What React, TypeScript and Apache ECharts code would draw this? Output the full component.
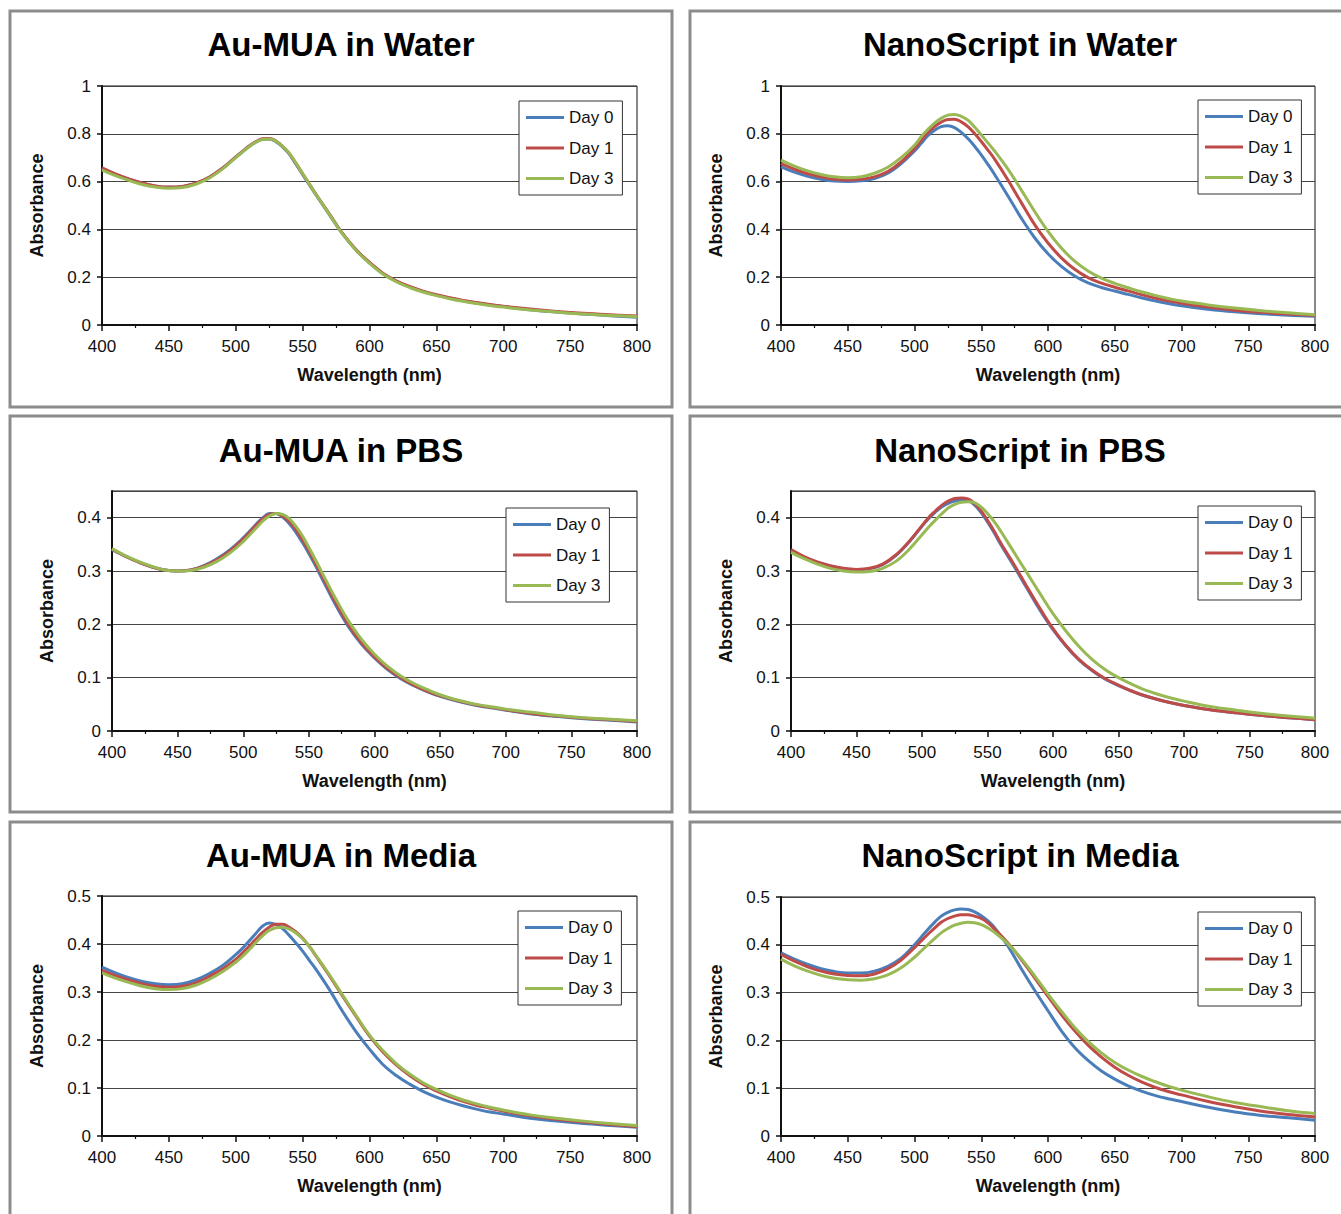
import React, { useEffect, useRef } from "react";
import * as echarts from "echarts";

// ---------------- data ----------------
const WAVELENGTHS = [
  400, 410, 420, 430, 440, 450, 460, 470, 480, 490,
  500, 505, 510, 515, 520, 525, 530, 535, 540, 545, 550, 555, 560,
  570, 580, 590, 600, 610, 620, 630, 640, 650, 660, 670, 680, 690, 700,
  720, 740, 760, 780, 800,
];
const DAYS = ["Day 0", "Day 1", "Day 3"];
const TITLES = [
  "Au-MUA in Water",
  "NanoScript in Water",
  "Au-MUA in PBS",
  "NanoScript in PBS",
  "Au-MUA in Media",
  "NanoScript in Media",
];
const Y_MAX = [1, 1, 0.45, 0.45, 0.5, 0.5];
const Y_INTERVAL = [0.2, 0.2, 0.1, 0.1, 0.1, 0.1];
const X_TICKS = [400, 450, 500, 550, 600, 650, 700, 750, 800];

// Au-MUA in Water
const auWaterDay0 = [0.655,0.630,0.610,0.593,0.581,0.576,0.579,0.592,0.617,0.655, 0.702,0.725,0.747,0.765,0.777,0.778,0.767,0.745,0.715,0.673,0.630,0.587,0.544, 0.462,0.380,0.313,0.260,0.215,0.183,0.159,0.140,0.125,0.112,0.101,0.092,0.084,0.077, 0.064,0.054,0.046,0.039,0.032];
const auWaterDay1 = [0.657,0.632,0.611,0.594,0.582,0.577,0.580,0.593,0.618,0.656, 0.703,0.726,0.749,0.767,0.779,0.780,0.770,0.748,0.718,0.676,0.633,0.590,0.547, 0.465,0.382,0.315,0.262,0.217,0.185,0.161,0.142,0.127,0.114,0.103,0.094,0.086,0.079, 0.067,0.057,0.049,0.043,0.038];
const auWaterDay3 = [0.648,0.625,0.605,0.588,0.577,0.572,0.575,0.589,0.614,0.652, 0.700,0.724,0.746,0.765,0.776,0.778,0.769,0.748,0.718,0.677,0.634,0.590,0.546, 0.463,0.380,0.312,0.258,0.213,0.181,0.157,0.138,0.123,0.110,0.099,0.090,0.082,0.075, 0.063,0.054,0.046,0.040,0.035];

// NanoScript in Water
const nanoWaterDay0 = [0.662,0.640,0.622,0.610,0.602,0.600,0.603,0.613,0.635,0.675, 0.728,0.760,0.792,0.815,0.830,0.834,0.826,0.806,0.780,0.748,0.712,0.672,0.630, 0.540,0.447,0.365,0.298,0.245,0.205,0.176,0.157,0.142,0.128,0.114,0.101,0.090,0.081, 0.066,0.055,0.047,0.041,0.037];
const nanoWaterDay1 = [0.675,0.652,0.633,0.620,0.610,0.607,0.610,0.620,0.642,0.682, 0.738,0.772,0.805,0.830,0.849,0.860,0.861,0.850,0.830,0.801,0.768,0.732,0.694, 0.607,0.512,0.420,0.343,0.281,0.233,0.198,0.175,0.158,0.143,0.127,0.113,0.101,0.091, 0.075,0.062,0.053,0.046,0.040];
const nanoWaterDay3 = [0.690,0.665,0.645,0.630,0.620,0.616,0.620,0.635,0.660,0.700, 0.752,0.788,0.818,0.845,0.865,0.878,0.881,0.873,0.857,0.828,0.795,0.762,0.728, 0.652,0.565,0.475,0.392,0.322,0.267,0.226,0.196,0.174,0.156,0.139,0.124,0.111,0.100, 0.084,0.071,0.060,0.051,0.043];

// Au-MUA in PBS
const auPbsDay0 = [0.340,0.328,0.317,0.308,0.302,0.300,0.302,0.310,0.323,0.340, 0.362,0.375,0.388,0.400,0.408,0.408,0.401,0.389,0.373,0.354,0.333,0.310,0.286, 0.238,0.196,0.163,0.137,0.115,0.098,0.085,0.074,0.065,0.058,0.052,0.047,0.043,0.039, 0.032,0.027,0.023,0.020,0.017];
const auPbsDay1 = [0.341,0.328,0.317,0.308,0.302,0.300,0.302,0.309,0.321,0.338, 0.360,0.373,0.386,0.398,0.406,0.408,0.403,0.393,0.378,0.359,0.338,0.315,0.291, 0.243,0.200,0.166,0.139,0.117,0.100,0.086,0.075,0.066,0.059,0.053,0.048,0.044,0.040, 0.033,0.028,0.024,0.021,0.018];
const auPbsDay3 = [0.342,0.329,0.318,0.309,0.302,0.300,0.301,0.307,0.318,0.334, 0.355,0.368,0.381,0.394,0.403,0.408,0.406,0.398,0.384,0.366,0.344,0.321,0.297, 0.250,0.207,0.172,0.144,0.121,0.103,0.089,0.078,0.068,0.060,0.054,0.049,0.045,0.041, 0.035,0.029,0.025,0.022,0.019];

// NanoScript in PBS
const nanoPbsDay0 = [0.338,0.326,0.316,0.309,0.304,0.302,0.304,0.312,0.329,0.354, 0.384,0.398,0.410,0.420,0.427,0.431,0.433,0.432,0.424,0.410,0.392,0.372,0.350, 0.310,0.268,0.227,0.190,0.159,0.133,0.113,0.097,0.085,0.075,0.066,0.059,0.053,0.048, 0.040,0.034,0.029,0.025,0.021];
const nanoPbsDay1 = [0.340,0.327,0.317,0.310,0.305,0.303,0.305,0.313,0.330,0.355, 0.385,0.400,0.412,0.423,0.431,0.436,0.437,0.435,0.427,0.413,0.395,0.375,0.353, 0.313,0.271,0.230,0.192,0.160,0.134,0.114,0.098,0.086,0.075,0.066,0.059,0.053,0.048, 0.040,0.034,0.029,0.025,0.021];
const nanoPbsDay3 = [0.335,0.323,0.313,0.305,0.300,0.298,0.299,0.305,0.318,0.340, 0.368,0.382,0.395,0.407,0.418,0.425,0.429,0.430,0.428,0.420,0.408,0.393,0.375, 0.336,0.297,0.258,0.220,0.187,0.158,0.134,0.115,0.100,0.088,0.077,0.069,0.062,0.056, 0.046,0.039,0.033,0.028,0.024];

// Au-MUA in Media
const auMediaDay0 = [0.352,0.340,0.330,0.322,0.317,0.315,0.317,0.325,0.338,0.355, 0.378,0.391,0.406,0.422,0.437,0.444,0.441,0.432,0.418,0.402,0.385,0.366,0.347, 0.305,0.259,0.217,0.181,0.149,0.126,0.108,0.093,0.081,0.071,0.063,0.056,0.050,0.046, 0.037,0.031,0.026,0.022,0.018];
const auMediaDay1 = [0.345,0.334,0.325,0.317,0.312,0.310,0.312,0.319,0.332,0.348, 0.368,0.381,0.395,0.410,0.424,0.435,0.441,0.441,0.435,0.425,0.412,0.395,0.375, 0.334,0.291,0.249,0.208,0.175,0.148,0.126,0.108,0.094,0.082,0.072,0.064,0.058,0.052, 0.042,0.035,0.029,0.024,0.020];
const auMediaDay3 = [0.340,0.329,0.320,0.312,0.307,0.305,0.307,0.314,0.326,0.342, 0.362,0.374,0.388,0.403,0.417,0.428,0.434,0.435,0.431,0.423,0.411,0.395,0.376, 0.336,0.293,0.251,0.210,0.178,0.151,0.129,0.111,0.097,0.085,0.075,0.067,0.060,0.054, 0.044,0.037,0.031,0.026,0.022];

// NanoScript in Media
const nanoMediaDay0 = [0.383,0.370,0.359,0.350,0.344,0.341,0.341,0.345,0.355,0.372, 0.400,0.416,0.432,0.447,0.460,0.468,0.473,0.475,0.474,0.469,0.461,0.450,0.436, 0.397,0.350,0.305,0.262,0.220,0.185,0.158,0.136,0.119,0.105,0.094,0.085,0.078,0.072, 0.060,0.050,0.043,0.038,0.033];
const nanoMediaDay1 = [0.380,0.366,0.354,0.345,0.339,0.336,0.335,0.339,0.350,0.368, 0.394,0.408,0.422,0.435,0.447,0.455,0.460,0.463,0.463,0.460,0.455,0.446,0.433, 0.404,0.369,0.331,0.292,0.254,0.220,0.190,0.165,0.144,0.127,0.113,0.102,0.093,0.086, 0.072,0.061,0.052,0.045,0.040];
const nanoMediaDay3 = [0.370,0.356,0.345,0.336,0.330,0.327,0.326,0.329,0.337,0.352, 0.374,0.387,0.400,0.413,0.425,0.434,0.441,0.445,0.447,0.446,0.442,0.435,0.426, 0.402,0.371,0.335,0.297,0.261,0.227,0.198,0.174,0.154,0.138,0.125,0.114,0.104,0.096, 0.082,0.070,0.061,0.053,0.047];

const PANEL_SERIES = [
  [auWaterDay0, auWaterDay1, auWaterDay3],
  [nanoWaterDay0, nanoWaterDay1, nanoWaterDay3],
  [auPbsDay0, auPbsDay1, auPbsDay3],
  [nanoPbsDay0, nanoPbsDay1, nanoPbsDay3],
  [auMediaDay0, auMediaDay1, auMediaDay3],
  [nanoMediaDay0, nanoMediaDay1, nanoMediaDay3],
];

// ---------------- styling / layout ----------------
const COLORS = ["#4a7ebb", "#be4b48", "#98b954"];
const FONT = '"Liberation Sans", Arial, Helvetica, sans-serif';

const LAYOUT = [
  { box: [10, 11, 662, 396], grid: [102, 86, 637, 325], title: [341, 44], legend: [519, 101] },
  { box: [690, 11, 662, 396], grid: [781, 86, 1315, 325], title: [1020, 44], legend: [1198, 100] },
  { box: [10, 416, 662, 396], grid: [112, 491, 637, 731], title: [341, 450], legend: [506, 508] },
  { box: [690, 416, 662, 396], grid: [791, 491, 1315, 731], title: [1020, 450], legend: [1198, 506] },
  { box: [10, 822, 662, 400], grid: [102, 896, 637, 1136], title: [341, 855], legend: [518, 911] },
  { box: [690, 822, 662, 400], grid: [781, 897, 1315, 1136], title: [1020, 855], legend: [1198, 912] },
];

function buildOption() {
  const grids: any[] = [];
  const xAxes: any[] = [];
  const yAxes: any[] = [];
  const legends: any[] = [];
  const series: any[] = [];
  const graphics: any[] = [];

  LAYOUT.forEach((L, p) => {
    const [gl, gt, gr, gb] = L.grid;
    grids.push({
      left: gl,
      top: gt,
      width: gr - gl,
      height: gb - gt,
      show: true,
      borderColor: "#111",
      borderWidth: 1,
      backgroundColor: "transparent",
    });
    xAxes.push({
      type: "value",
      gridIndex: p,
      min: X_TICKS[0],
      max: X_TICKS[X_TICKS.length - 1],
      interval: 50,
      name: "Wavelength (nm)",
      nameLocation: "middle",
      nameGap: 50,
      nameTextStyle: {
        fontFamily: FONT,
        fontWeight: "bold",
        fontSize: 18,
        color: "#111",
        verticalAlign: "middle",
      },
      axisLine: { show: true, onZero: false, lineStyle: { color: "#111", width: 2 } },
      axisTick: { show: true, length: 6, lineStyle: { color: "#111", width: 1.5 } },
      minorTick: { show: true, splitNumber: 2, length: 3, lineStyle: { color: "#111", width: 1.2 } },
      axisLabel: { fontFamily: FONT, fontSize: 17, color: "#111", margin: 13 },
      splitLine: { show: false },
    });
    yAxes.push({
      type: "value",
      gridIndex: p,
      min: 0,
      max: Y_MAX[p],
      interval: Y_INTERVAL[p],
      name: "Absorbance",
      nameLocation: "middle",
      nameRotate: 90,
      nameGap: 65,
      nameTextStyle: {
        fontFamily: FONT,
        fontWeight: "bold",
        fontSize: 18,
        color: "#111",
        verticalAlign: "middle",
      },
      axisLine: { show: true, onZero: false, lineStyle: { color: "#111", width: 2 } },
      axisTick: { show: true, length: 5, lineStyle: { color: "#111", width: 1.5 } },
      axisLabel: {
        fontFamily: FONT,
        fontSize: 17,
        color: "#111",
        margin: 11,
        showMaxLabel: Y_MAX[p] === 0.45 ? false : true,
      },
      splitLine: { show: true, lineStyle: { color: "#444", width: 1 } },
    });
    legends.push({
      left: L.legend[0],
      top: L.legend[1],
      orient: "vertical",
      icon: "rect",
      itemWidth: 38,
      itemHeight: 3,
      itemGap: 13.5,
      padding: [8, 9, 8, 7],
      backgroundColor: "#fff",
      borderColor: "#333",
      borderWidth: 1,
      selectedMode: false,
      textStyle: { fontFamily: FONT, fontSize: 17, color: "#111" },
      data: DAYS,
    });
    PANEL_SERIES[p].forEach((values, d) => {
      series.push({
        type: "line",
        name: DAYS[d],
        xAxisIndex: p,
        yAxisIndex: p,
        data: WAVELENGTHS.map((w, i) => [w, values[i]]),
        symbol: "none",
        smooth: 0.4,
        silent: true,
        z: 2 + d,
        lineStyle: { width: 3, color: COLORS[d] },
        itemStyle: { color: COLORS[d] },
      });
    });
    const [bx, by, bw, bh] = L.box;
    graphics.push({
      type: "rect",
      silent: true,
      shape: { x: bx, y: by, width: bw, height: bh },
      style: { fill: "none", stroke: "#8c8c8c", lineWidth: 3 },
    });
    graphics.push({
      type: "text",
      silent: true,
      x: L.title[0],
      y: L.title[1],
      style: {
        text: TITLES[p],
        font: `bold 33px ${FONT}`,
        fill: "#000",
        textAlign: "center",
        textVerticalAlign: "middle",
        align: "center",
        verticalAlign: "middle",
      },
    });
  });

  return {
    animation: false,
    backgroundColor: "#ffffff",
    textStyle: { fontFamily: FONT },
    grid: grids,
    xAxis: xAxes,
    yAxis: yAxes,
    legend: legends,
    series,
    graphic: { elements: graphics },
  };
}

export default function App() {
  const ref = useRef<HTMLDivElement | null>(null);
  useEffect(() => {
    if (!ref.current) return;
    const chart = echarts.init(ref.current, undefined, { renderer: "svg" });
    chart.setOption(buildOption());
    return () => chart.dispose();
  }, []);
  return (
    <div
      ref={ref}
      style={{ position: "absolute", left: 0, top: 0, width: 1341, height: 1214, background: "#fff" }}
    />
  );
}
